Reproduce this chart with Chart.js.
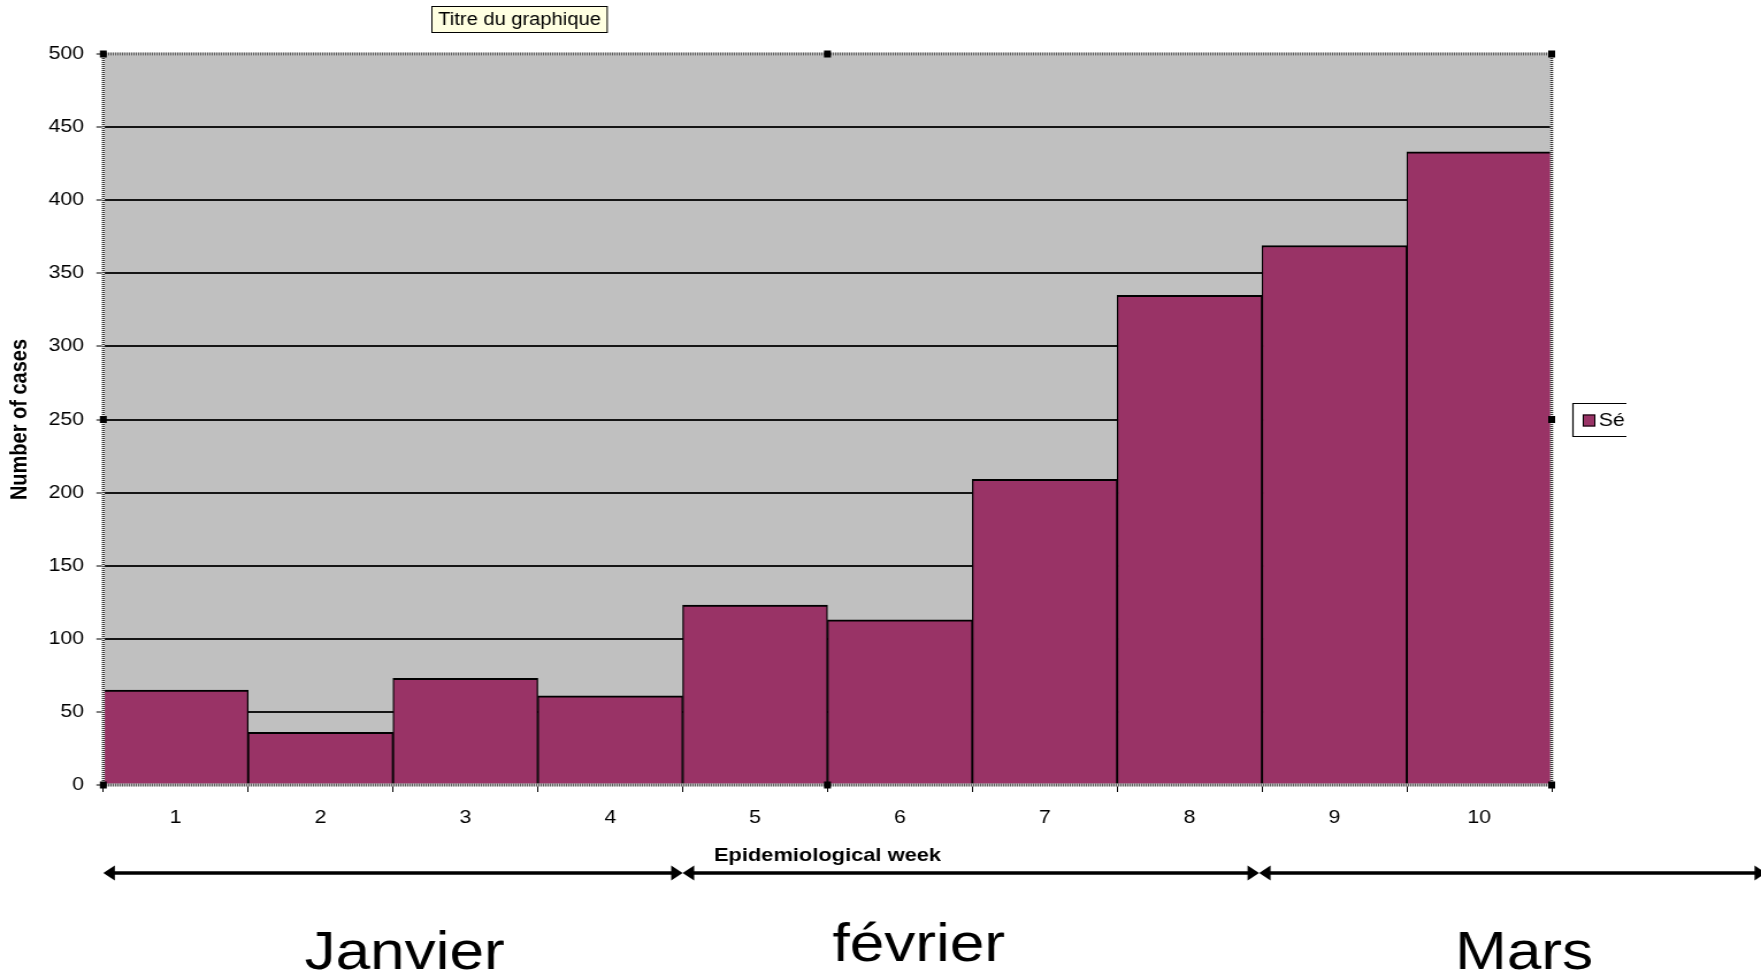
<!DOCTYPE html>
<html>
<head>
<meta charset="utf-8">
<title>Number of cases by epidemiological week</title>
<script src="https://cdn.jsdelivr.net/npm/chart.js@4/dist/chart.umd.min.js"></script>
<style>
  html, body { margin: 0; padding: 0; background: #fff; overflow: hidden; }
</style>
</head>
<body>
<!-- drawing surface is laid out narrower and widened on screen, giving the wide lettering of the old spreadsheet chart -->
<canvas id="chart" width="1531" height="980" style="display:block;width:1761px;height:980px"></canvas>
<script>
// ---- data ----
const weeks = ['1', '2', '3', '4', '5', '6', '7', '8', '9', '10'];
const cases = [65, 36, 73, 61, 123, 113, 209, 335, 369, 433];
const seriesName = 'Série1';
const yMin = 0;
const yMax = 500;
const yStep = 50;
const chartTitle = 'Titre du graphique';
const xTitle = 'Epidemiological week';
const yTitle = 'Number of cases';
const months = ['Janvier', 'février', 'Mars'];
// month spans expressed in category units (week index, boundaries at .5)
const monthFrom = [-0.5, 3.5, 7.48];
const monthTo = [3.5, 7.48, 10.98];

const FONT = '"Liberation Sans", Arial, Helvetica, sans-serif';
const BAR = '#993366';
const PLOT_BG = '#C0C0C0';

// extra drawing: plot background, dotted selection frame, handles, title box, legend, month arrows
const decorations = {
  id: 'decorations',
  beforeDraw(chart) {
    const { ctx, chartArea: a } = chart;
    ctx.save();
    ctx.fillStyle = PLOT_BG;
    ctx.fillRect(a.left, a.top, a.right - a.left, a.bottom - a.top);
    ctx.restore();
  },
  afterDraw(chart, args, opts) {
    const { ctx, chartArea: a, scales } = chart;
    const x = scales.x;
    ctx.save();

    // dotted frame around the plot area
    const frameLine = (x1, y1, x2, y2, w) => {
      ctx.setLineDash([]);
      ctx.strokeStyle = '#e8e8e8';
      ctx.lineWidth = w;
      ctx.beginPath(); ctx.moveTo(x1, y1); ctx.lineTo(x2, y2); ctx.stroke();
      ctx.setLineDash([1, 1]);
      ctx.strokeStyle = '#3a3a3a';
      ctx.beginPath(); ctx.moveTo(x1, y1); ctx.lineTo(x2, y2); ctx.stroke();
    };
    frameLine(a.left, a.top, a.right, a.top, 3);
    frameLine(a.left, a.bottom, a.right, a.bottom, 3);
    frameLine(a.left, a.top, a.left, a.bottom, 2.6);
    frameLine(a.right, a.top, a.right, a.bottom, 2.6);
    ctx.setLineDash([]);

    // selection handles
    const cx = (a.left + a.right) / 2, cy = (a.top + a.bottom) / 2;
    const hw = 6, hh = 7;
    ctx.fillStyle = '#000';
    [[a.left, a.top], [cx, a.top], [a.right, a.top], [a.right, cy],
     [a.right, a.bottom], [cx, a.bottom], [a.left, a.bottom], [a.left, cy]]
      .forEach(([px, py]) => ctx.fillRect(px - hw / 2, py - hh / 2, hw, hh));

    // chart title in a pale yellow box
    ctx.font = '17.5px ' + FONT;
    const tw = ctx.measureText(chartTitle).width;
    const tcx = 451.7, tcy = 19.5;
    const bw = tw + 12, bh = 27;
    ctx.fillStyle = '#FFFFE1';
    ctx.fillRect(tcx - bw / 2, tcy - bh / 2, bw, bh);
    ctx.strokeStyle = '#000';
    ctx.lineWidth = 1;
    ctx.strokeRect(tcx - bw / 2 + 0.5, tcy - bh / 2 + 0.5, bw - 1, bh - 1);
    ctx.fillStyle = '#000';
    ctx.textAlign = 'center';
    ctx.textBaseline = 'middle';
    ctx.fillText(chartTitle, tcx, tcy + 1);

    // legend box, cut off at its right side
    const lx = 1367, ly = 403, lr = 1414, lb = 437;
    ctx.save();
    ctx.beginPath();
    ctx.rect(lx - 2, ly - 2, lr - lx + 2, lb - ly + 4);
    ctx.clip();
    ctx.fillStyle = '#fff';
    ctx.fillRect(lx, ly, lr - lx + 5, lb - ly);
    ctx.strokeStyle = '#000';
    ctx.lineWidth = 1.2;
    ctx.beginPath();
    ctx.moveTo(lr + 5, ly + 0.5); ctx.lineTo(lx + 0.5, ly + 0.5);
    ctx.lineTo(lx + 0.5, lb - 0.5); ctx.lineTo(lr + 5, lb - 0.5);
    ctx.stroke();
    const ds = chart.data.datasets[0];
    ctx.fillStyle = ds.backgroundColor;
    ctx.fillRect(lx + 9, 414.5, 11, 12);
    ctx.lineWidth = 1;
    ctx.strokeRect(lx + 9.5, 415, 10, 11);
    ctx.fillStyle = '#000';
    ctx.font = '18.5px ' + FONT;
    ctx.textAlign = 'left';
    ctx.textBaseline = 'middle';
    ctx.fillText(ds.label, lx + 23, 421);
    ctx.restore();

    // month arrows below the axis
    const ay = opts.arrowY, head = 10, half = 7.5;
    ctx.strokeStyle = '#000';
    ctx.fillStyle = '#000';
    ctx.lineWidth = 3.5;
    months.forEach((m, i) => {
      const x1 = x.getPixelForValue(monthFrom[i]);
      const x2 = x.getPixelForValue(monthTo[i]);
      ctx.beginPath();
      ctx.moveTo(x1 + head - 1, ay); ctx.lineTo(x2 - head + 1, ay);
      ctx.stroke();
      ctx.beginPath();
      ctx.moveTo(x1, ay); ctx.lineTo(x1 + head, ay - half); ctx.lineTo(x1 + head, ay + half);
      ctx.closePath(); ctx.fill();
      ctx.beginPath();
      ctx.moveTo(x2, ay); ctx.lineTo(x2 - head, ay - half); ctx.lineTo(x2 - head, ay + half);
      ctx.closePath(); ctx.fill();
    });

    // month names
    ctx.font = '54px ' + FONT;
    ctx.textAlign = 'center';
    ctx.textBaseline = 'alphabetic';
    months.forEach((m, i) => {
      ctx.fillText(m, x.getPixelForValue(opts.labelAt[i]), opts.labelBaseline[i]);
    });

    ctx.restore();
  }
};

const tickFont = { family: FONT, size: 18.5 };

new Chart(document.getElementById('chart'), {
  type: 'bar',
  data: {
    labels: weeks,
    datasets: [{
      label: seriesName,
      data: cases,
      backgroundColor: BAR,
      borderColor: '#000',
      borderWidth: { top: 2, left: 1.3, right: 1.3, bottom: 0 },
      categoryPercentage: 1,
      barPercentage: 1
    }]
  },
  options: {
    responsive: false,
    animation: false,
    devicePixelRatio: 1,
    layout: { padding: { top: 54, right: 182, left: 0, bottom: 110 } },
    plugins: {
      legend: { display: false },
      tooltip: { enabled: false },
      decorations: {
        arrowY: 873,
        labelAt: [1.58, 5.13, 9.31],
        labelBaseline: [969, 961, 969]
      }
    },
    scales: {
      x: {
        grid: {
          display: true, drawOnChartArea: false, drawTicks: true,
          tickLength: 7, tickColor: '#000', tickWidth: 1, offset: true
        },
        border: { display: false },
        ticks: { font: tickFont, color: '#000', padding: 15, maxRotation: 0, autoSkip: false },
        title: {
          display: true, text: xTitle, color: '#000',
          font: { family: FONT, size: 19, weight: 'bold' },
          padding: { top: 0, bottom: 2.6 }
        },
        afterFit(scale) { scale.height = 85; }
      },
      y: {
        min: yMin,
        max: yMax,
        grid: { color: '#151515', lineWidth: 2, drawTicks: true, tickLength: 6, tickColor: '#000', tickWidth: 1 },
        border: { display: false },
        ticks: { stepSize: yStep, font: tickFont, color: '#000', padding: 10.8 },
        title: {
          display: true, text: yTitle, color: '#000',
          font: { family: FONT, size: 20, weight: 'bold' },
          padding: { top: 5.4, bottom: 0 }
        },
        afterFit(scale) { scale.width = 89.8; }
      }
    }
  },
  plugins: [decorations]
});
</script>
</body>
</html>
